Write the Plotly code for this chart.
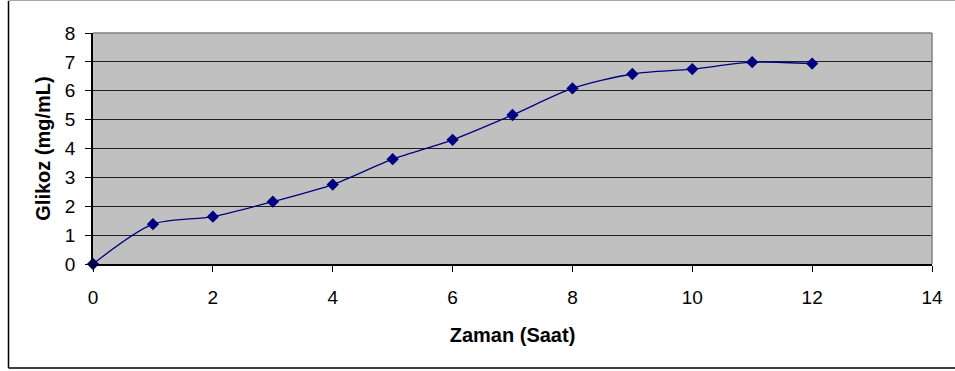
import plotly.graph_objects as go

# Glucose concentration over time
zaman_saat = [0, 1, 2, 3, 4, 5, 6, 7, 8, 9, 10, 11, 12]
glikoz = [0.0, 1.38, 1.64, 2.16, 2.75, 3.63, 4.30, 5.16, 6.08, 6.58, 6.75, 6.99, 6.94]

x_ticks = [0, 2, 4, 6, 8, 10, 12, 14]
y_ticks = [0, 1, 2, 3, 4, 5, 6, 7, 8]

W, H = 955, 371
M_L, M_R, M_T, M_B = 93, 18, 33, 107
plot_w = W - M_L - M_R
plot_h = H - M_T - M_B


def px_to_paper_x(px):
    return (px - M_L) / plot_w


def px_to_paper_y(py):
    return (H - M_B - py) / plot_h


NAVY = "#000080"
FONT = "Arial, Liberation Sans, sans-serif"

fig = go.Figure()
fig.add_trace(go.Scatter(
    x=zaman_saat,
    y=glikoz,
    mode="lines+markers",
    line=dict(color=NAVY, width=1.3, shape="spline", smoothing=0.8),
    marker=dict(symbol="diamond", size=9.5, color=NAVY),
    cliponaxis=False,
    showlegend=False,
))

# plot-area frame (top and right edges) and the outer chart border
shapes = [
    dict(type="line", xref="paper", yref="paper", x0=0, x1=1, y0=1, y1=1,
         line=dict(color="#808080", width=1.5)),
    dict(type="line", xref="paper", yref="paper", x0=1, x1=1, y0=0, y1=1,
         line=dict(color="#808080", width=1.5)),
    dict(type="line", xref="paper", yref="paper",
         x0=px_to_paper_x(8), x1=px_to_paper_x(8),
         y0=px_to_paper_y(1), y1=px_to_paper_y(368),
         line=dict(color="#000000", width=1.5)),
    dict(type="line", xref="paper", yref="paper",
         x0=px_to_paper_x(8), x1=px_to_paper_x(965),
         y0=px_to_paper_y(368), y1=px_to_paper_y(368),
         line=dict(color="#000000", width=1.5)),
    dict(type="line", xref="paper", yref="paper",
         x0=px_to_paper_x(8), x1=px_to_paper_x(965),
         y0=px_to_paper_y(0.5), y1=px_to_paper_y(0.5),
         line=dict(color="#A8A8A8", width=1)),
]

fig.update_layout(
    width=W, height=H,
    margin=dict(l=M_L, r=M_R, t=M_T, b=M_B, pad=0),
    paper_bgcolor="white",
    plot_bgcolor="#C0C0C0",
    font=dict(family=FONT, color="black", size=19),
    shapes=shapes,
    xaxis=dict(
        range=[0, 14], tickvals=x_ticks, ticktext=[str(v) for v in x_ticks],
        ticks="outside", ticklen=6, tickcolor="black", tickwidth=1,
        showline=True, linecolor="black", linewidth=1.5,
        showgrid=False, zeroline=False,
        tickfont=dict(size=19), ticklabelstandoff=9,
        title=dict(text="<b>Zaman (Saat)</b>", font=dict(size=20), standoff=21),
    ),
    yaxis=dict(
        range=[0, 8], tickvals=y_ticks, ticktext=[str(v) for v in y_ticks],
        ticks="outside", ticklen=6, tickcolor="black", tickwidth=1,
        showline=True, linecolor="black", linewidth=1.5,
        showgrid=True, gridcolor="#202020", gridwidth=1.3,
        zeroline=False,
        tickfont=dict(size=19), ticklabelstandoff=6,
        title=dict(text="<b>Glikoz (mg/mL)</b>", font=dict(size=20), standoff=9),
    ),
)

fig.write_html("out.html")
